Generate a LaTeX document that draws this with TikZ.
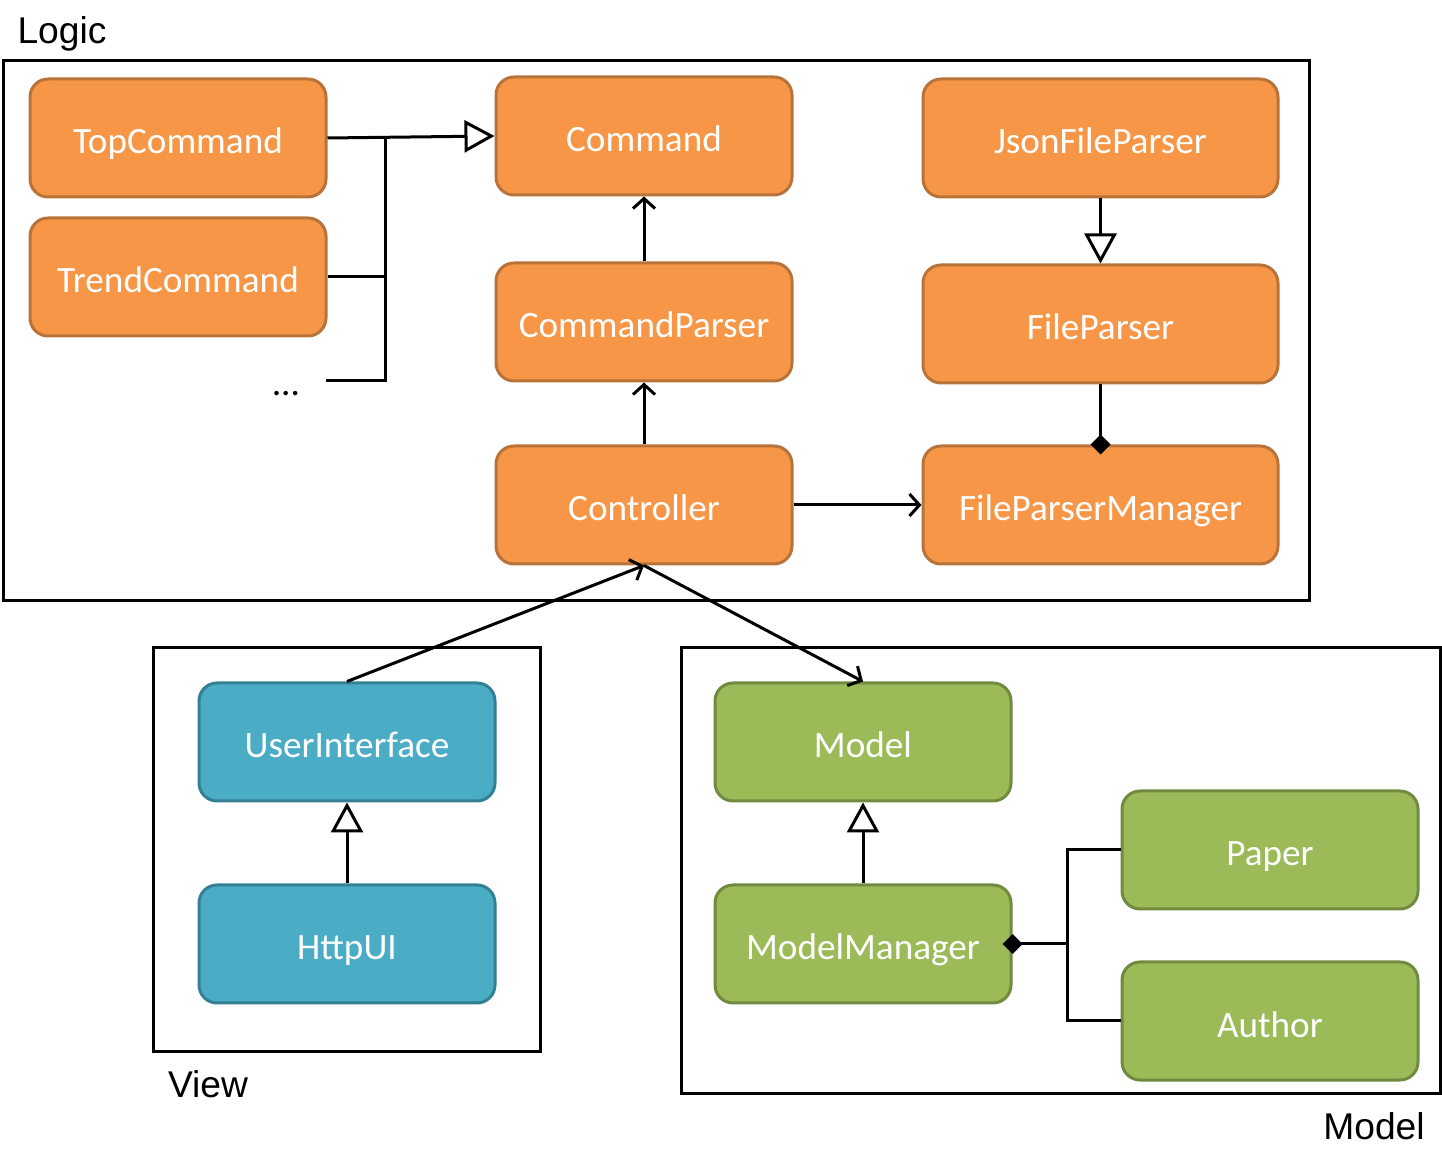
\documentclass[tikz,border=0pt]{standalone}
\usepackage{fontspec}
\setmainfont{Carlito}
\newfontfamily\labelfont{Liberation Sans}
\usetikzlibrary{arrows.meta}

\definecolor{orfill}{HTML}{F79646}
\definecolor{ordraw}{HTML}{B8733A}
\definecolor{blfill}{HTML}{4BACC6}
\definecolor{bldraw}{HTML}{357F95}
\definecolor{grfill}{HTML}{9BBB59}
\definecolor{grdraw}{HTML}{728A40}

\tikzset{
  cls/.style={rectangle, rounded corners=9pt, line width=1.5pt, inner sep=0pt,
    minimum width=148pt, minimum height=59pt, text=white,
    text height=16pt, text depth=0pt,
    font=\fontsize{18.6}{20}\selectfont},
  wide/.style={minimum width=177.5pt},
  logiccls/.style={cls, fill=orfill, draw=ordraw},
  viewcls/.style={cls, fill=blfill, draw=bldraw},
  modelcls/.style={cls, fill=grfill, draw=grdraw},
  frame/.style={draw=black, line width=1.5pt},
  pkglabel/.style={font=\labelfont\fontsize{18.6}{20}\selectfont, inner sep=0pt},
  conn/.style={draw=black, line width=1.5pt},
  inherit/.style={conn, -{Triangle[open, length=15pt, width=16pt, line width=1.5pt]}},
  uses/.style={conn, -{Straight Barb[length=5pt, width=11pt, line width=1.5pt]}},
  owns/.style={conn, {Diamond[length=10pt, width=10pt]}-, shorten <=-5pt},
}

\begin{document}
\begin{tikzpicture}[x=0.5pt, y=-0.5pt]
  \useasboundingbox (0,0) rectangle (1442,1154);

  % package frames
  \draw[frame] (3,61) rectangle (1309,601);
  \draw[frame] (153,648) rectangle (540,1051);
  \draw[frame] (681,648) rectangle (1440,1093);
  \node[pkglabel] (lbllogic) at (62,34) {Logic};
  \node[pkglabel] (lblview) at (208,1084) {View};
  \node[pkglabel] (lblmodel) at (1374,1126) {Model};

  % Logic classes
  \node[logiccls] (top) at (178,138) {TopCommand};
  \node[logiccls] (trend) at (178,277) {TrendCommand};
  \node[inner sep=0pt, font=\fontsize{18.6}{20}\selectfont] (dots) at (286,394) {…};
  \node[logiccls] (cmd) at (644,136) {Command};
  \node[logiccls] (parser) at (644,322) {CommandParser};
  \node[logiccls] (ctrl) at (644,505) {Controller};
  \node[logiccls, wide] (json) at (1100.5,138) {JsonFileParser};
  \node[logiccls, wide] (fparser) at (1100.5,324) {FileParser};
  \node[logiccls, wide] (fpm) at (1100.5,505) {FileParserManager};

  % View classes
  \node[viewcls] (ui) at (347,742) {UserInterface};
  \node[viewcls] (http) at (347,944) {HttpUI};

  % Model classes
  \node[modelcls] (model) at (863,742) {Model};
  \node[modelcls] (mm) at (863,944) {ModelManager};
  \node[modelcls] (paper) at (1270,850) {Paper};
  \node[modelcls] (author) at (1270,1021) {Author};

  % command hierarchy
  \coordinate (trunk) at (385,138);
  \coordinate (more) at (326,381);
  \draw[inherit] (top.east) -- (cmd.west);
  \draw[conn] (trend.east) -- (trend.east -| trunk);
  \draw[conn] (more) -- (more -| trunk) -- (trunk);

  % logic dependencies
  \draw[uses] (parser.north) -- (cmd.south);
  \draw[uses] (ctrl.north) -- (parser.south);
  \draw[uses] (ctrl.east) -- (fpm.west);
  \draw[inherit] (json.south) -- (fparser.north);
  \draw[owns] (fpm.north) -- (fparser.south);

  % cross-package dependencies
  \draw[uses] (ui.north) -- (ctrl.south);
  \draw[uses] (ctrl.south) -- (model.north);

  % view and model
  \draw[inherit] (http.north) -- (ui.south);
  \draw[inherit] (mm.north) -- (model.south);
  \coordinate (mtrunk) at (1067,944);
  \draw[owns] (mm.east) -- (mtrunk);
  \draw[conn] (paper.west) -- (paper.west -| mtrunk) -- (author.west -| mtrunk) -- (author.west);
\end{tikzpicture}
\end{document}
